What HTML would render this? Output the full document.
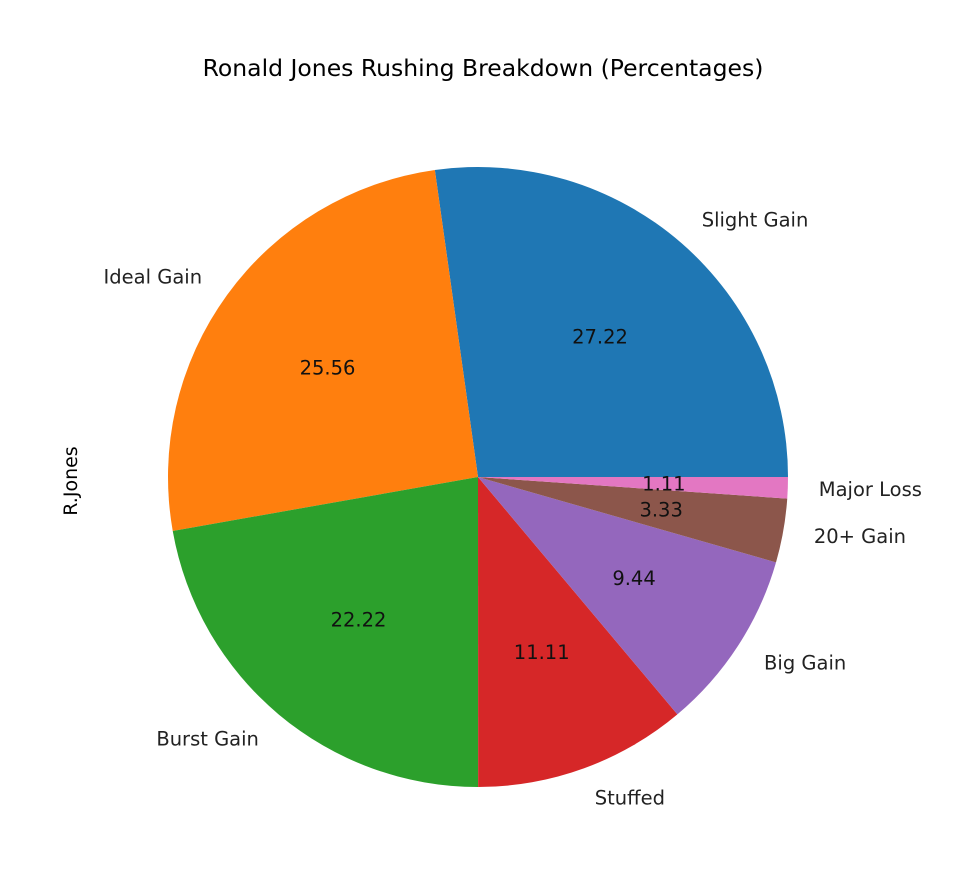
<!DOCTYPE html>
<html><head><meta charset="utf-8"><style>
html,body{margin:0;padding:0;background:#fff;}
svg{display:block;font-family:"DejaVu Sans","Liberation Sans",sans-serif;}
</style></head><body>
<svg id="chart" width="976" height="874" viewBox="0 0 976 874">
<text x="483" y="76" text-anchor="middle" font-size="23.5" fill="#000">Ronald Jones Rushing Breakdown (Percentages)</text>
<text transform="translate(77,481) rotate(-90)" text-anchor="middle" font-size="19" fill="#000">R.Jones</text>
<g id="slices"></g>
<g id="labels"></g>
</svg>
<script>
const categories = ["Slight Gain","Ideal Gain","Burst Gain","Stuffed","Big Gain","20+ Gain","Major Loss"];
const values = [27.22,25.56,22.22,11.11,9.44,3.33,1.11];
const pctLabels = ["27.22","25.56","22.22","11.11","9.44","3.33","1.11"];
const colors = ["#1f77b4","#ff7f0e","#2ca02c","#d62728","#9467bd","#8c564b","#e377c2"];
const cx=478, cy=477, R=310;
const ns="http://www.w3.org/2000/svg";
const gS=document.getElementById('slices'), gL=document.getElementById('labels');
const total=values.reduce((a,b)=>a+b,0);
let a0=0;
function pt(a,r){return [cx+r*Math.cos(a*Math.PI/180), cy-r*Math.sin(a*Math.PI/180)];}
values.forEach((v,i)=>{
  const a1=a0+v/total*360;
  const p0=pt(a0,R), p1=pt(a1,R);
  const large=(a1-a0)>180?1:0;
  const path=document.createElementNS(ns,'path');
  path.setAttribute('d',`M${cx},${cy} L${p0[0]},${p0[1]} A${R},${R} 0 ${large} 0 ${p1[0]},${p1[1]} Z`);
  path.setAttribute('fill',colors[i]);
  
  
  gS.appendChild(path);
  const am=(a0+a1)/2;
  const lp=pt(am,R*1.1);
  const t=document.createElementNS(ns,'text');
  t.setAttribute('x',lp[0]); t.setAttribute('y',lp[1]+7);
  t.setAttribute('font-size','19.5');
  t.setAttribute('fill','#222');
  t.setAttribute('text-anchor', Math.cos(am*Math.PI/180)>=0?'start':'end');
  t.textContent=categories[i];
  
  
  gL.appendChild(t);
  const pp=pt(am,R*0.6);
  const t2=document.createElementNS(ns,'text');
  t2.setAttribute('x',pp[0]); t2.setAttribute('y',pp[1]+7);
  t2.setAttribute('font-size','19.5');
  t2.setAttribute('fill','#111');
  t2.setAttribute('text-anchor','middle');
  t2.textContent=pctLabels[i];
  
  
  gL.appendChild(t2);
  a0=a1;
});
</script>
</body></html>
